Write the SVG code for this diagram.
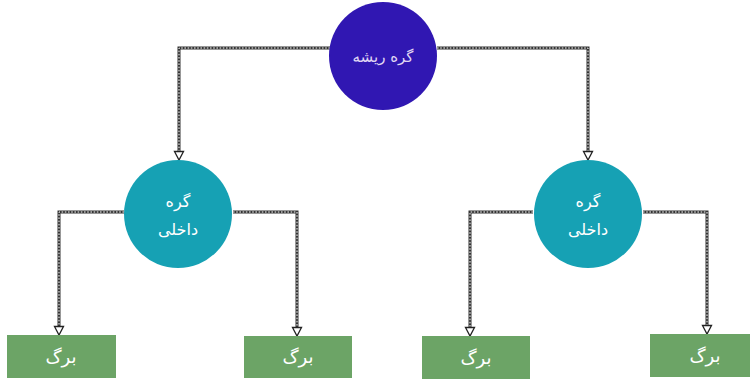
<svg xmlns="http://www.w3.org/2000/svg" width="750" height="380" viewBox="0 0 750 380">
<defs>
<marker id="arr" markerUnits="userSpaceOnUse" markerWidth="12" markerHeight="12" viewBox="0 0 12 12" refX="10" refY="6" orient="auto">
<path d="M1.5,1.5 L10,6 L1.5,10.5 Z" fill="#fff" stroke="#222" stroke-width="1.3"/>
</marker>
</defs>
<style>
.ln{fill:none;stroke:#333;stroke-width:3}
.dl{fill:none;stroke:#fff;stroke-width:1;stroke-dasharray:1.6 1.6}
.root{fill:#3017B2}
.inner{fill:#16A1B4}
.leaf{fill:#6CA466}
.t{font-family:"DejaVu Sans",sans-serif;font-size:16px;fill:#fff;text-anchor:middle}
.tl{font-size:18px}
.tr{fill:#E0D8F4;font-size:15px}
</style>
<g id="connectors">
<g class="ln">
<path d="M330,48 H179 V151"/>
<path d="M437,48 H588 V151"/>
<path d="M124,212 H59 V326"/>
<path d="M233,212 H297 V327"/>
<path d="M533,212 H470 V327"/>
<path d="M643,212 H707 V325"/>
</g>
<g class="dl">
<path d="M330,48 H179 V151"/>
<path d="M437,48 H588 V151"/>
<path d="M124,212 H59 V326"/>
<path d="M233,212 H297 V327"/>
<path d="M533,212 H470 V327"/>
<path d="M643,212 H707 V325"/>
</g>
<g fill="none" stroke="none">
<path d="M179,148 V160" marker-end="url(#arr)"/>
<path d="M588,148 V160" marker-end="url(#arr)"/>
<path d="M59,323 V335" marker-end="url(#arr)"/>
<path d="M297,324 V336" marker-end="url(#arr)"/>
<path d="M470,324 V336" marker-end="url(#arr)"/>
<path d="M707,322 V334" marker-end="url(#arr)"/>
</g>
</g>
<g id="root">
<circle class="root" cx="383" cy="56" r="54"/>
<text class="t tr" x="383" y="62">گره ریشه</text>
</g>
<g id="inner-left">
<circle class="inner" cx="178" cy="214" r="54"/>
<text class="t" x="178" y="207">گره</text>
<text class="t" x="178" y="235">داخلی</text>
</g>
<g id="inner-right">
<circle class="inner" cx="588" cy="214" r="54"/>
<text class="t" x="588" y="207">گره</text>
<text class="t" x="588" y="235">داخلی</text>
</g>
<g id="leaf1">
<rect class="leaf" x="7" y="335" width="109" height="43"/>
<text class="t tl" x="61" y="363">برگ</text>
</g>
<g id="leaf2">
<rect class="leaf" x="244" y="336" width="108" height="42"/>
<text class="t tl" x="298" y="363">برگ</text>
</g>
<g id="leaf3">
<rect class="leaf" x="422" y="336" width="108" height="43"/>
<text class="t tl" x="476" y="364">برگ</text>
</g>
<g id="leaf4">
<rect class="leaf" x="650" y="334" width="100" height="43"/>
<text class="t tl" x="705" y="362">برگ</text>
</g>
</svg>
